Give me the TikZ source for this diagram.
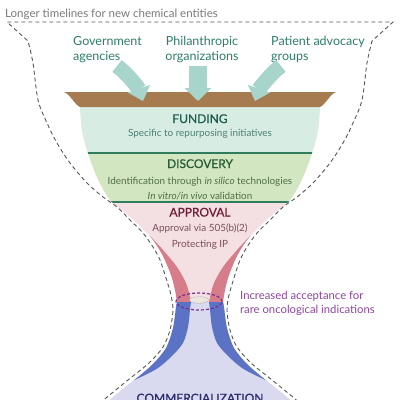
\documentclass[tikz,border=0pt]{standalone}
\usepackage{fontspec}
\setmainfont{Lato}
\newfontfamily\headfont{Lato}[FakeBold=0.8]
\usepackage{tikz}
\usetikzlibrary{arrows.meta,positioning}
\definecolor{titlegray}{HTML}{7A7A7A}
\definecolor{labteal}{HTML}{2D7D69}
\definecolor{arrowteal}{HTML}{A8D5CB}
\definecolor{barbrown}{HTML}{A67B50}
\definecolor{fundfill}{HTML}{D7EDE4}
\definecolor{discfill}{HTML}{D3E6C2}
\definecolor{linegreen}{HTML}{2F7D5C}
\definecolor{fundtxt}{HTML}{1E5E50}
\definecolor{fundsub}{HTML}{4E7F73}
\definecolor{disctxt}{HTML}{2A5D36}
\definecolor{discsub}{HTML}{4F6E4A}
\definecolor{apprtxt}{HTML}{6E1F33}
\definecolor{apprsub}{HTML}{7B4F5A}
\definecolor{apprfill}{HTML}{F4DFE3}
\definecolor{redband}{HTML}{D67D89}
\definecolor{commfill}{HTML}{D9D9EF}
\definecolor{blueband}{HTML}{5C72C4}
\definecolor{commtxt}{HTML}{2B2C6E}
\definecolor{neckpurple}{HTML}{7A2F8F}
\definecolor{accpurple}{HTML}{8E44A0}
\definecolor{outlinegray}{HTML}{555555}
\definecolor{neckfill}{HTML}{ECE6E2}

\newcommand\upperfunnel{plot[smooth] coordinates {(80,105) (82,130) (88,153) (97,177) (110,200) (128,215) (142,228) (153,240) (163,256) (171,275) (175,290) (177,302)}
  -- plot[smooth] coordinates {(223,302) (225,290) (229,275) (237,256) (247,240) (258,228) (272,215) (290,200) (303,177) (312,153) (318,130) (320,105)} -- cycle}
\newcommand\lowerfunnel{plot[smooth] coordinates {(177,302) (176,307) (173,328) (166,348) (153,364) (138,377) (124,388) (112,398) (100,410)}
  -- plot[smooth] coordinates {(300,410) (288,398) (276,388) (262,377) (247,364) (234,348) (227,328) (224,307) (223,302)} -- cycle}

\begin{document}
\begin{tikzpicture}[x=1pt, y=-1pt,
  lbl/.style={font=\fontsize{12.5}{14.5}\selectfont, text=labteal, inner sep=0pt, align=left},
  head/.style={font=\headfont\fontsize{12}{14}\selectfont, inner sep=0pt, anchor=base},
  sub/.style={font=\fontsize{9.9}{11}\selectfont, inner sep=0pt, anchor=base},
  feed/.style={draw=arrowteal, line width=15pt, -{Triangle[width=23pt,length=13pt]}},
  outline/.style={draw=outlinegray, line width=0.9pt, dash pattern=on 4pt off 3pt}]
\useasboundingbox (0,0) rectangle (400,400);
\clip (0,0) rectangle (400,400);

% funnel, upper part
\fill[apprfill] \upperfunnel;
\begin{scope}
\clip \upperfunnel;
\fill[fundfill] (0,100) rectangle (400,153);
\fill[discfill] (0,153) rectangle (400,202);
\fill[redband] (130,236) -- plot[smooth] coordinates {(150,236) (163,250) (177,267) (186,283) (190,297) (191,303)} -- (150,303) -- cycle;
\fill[redband] (270,236) -- plot[smooth] coordinates {(250,236) (237,250) (223,267) (214,283) (210,297) (209,303)} -- (250,303) -- cycle;
\draw[linegreen, line width=1.5pt] (0,153) -- (400,153);
\draw[linegreen, line width=1.5pt] (0,202) -- (400,202);
\end{scope}

% funnel, lower part
\fill[commfill] \lowerfunnel;
\begin{scope}
\clip \lowerfunnel;
\fill[blueband] (100,302) -- plot[smooth] coordinates {(191,302) (190,310) (188,327) (183,343) (172,356) (158,368) (143,376) (128,383)} -- (100,383) -- cycle;
\fill[blueband] (300,302) -- plot[smooth] coordinates {(209,302) (210,310) (212,327) (217,343) (228,356) (242,368) (257,376) (272,383)} -- (300,383) -- cycle;
\end{scope}

% rim
\fill[barbrown] (64,92) -- (336,92) .. controls (330,94) and (326,104) .. (320,107) -- (80,107) .. controls (74,104) and (70,94) .. (64,92) -- cycle;

% dashed envelope
\draw[outline] plot[smooth] coordinates {(100,404) (106,398) (128,380) (149,363) (163,347) (170,330) (173,310) (171,295) (166,278) (160,260) (153,247) (143,233) (130,220) (117,207) (103,197) (87,183) (70,163) (57,143) (47,123) (38,100) (33,63) (28,41)}
  -- (7,22) -- (393,22) -- (372,41)
  -- plot[smooth] coordinates {(372,41) (367,63) (362,100) (353,123) (343,143) (330,163) (313,183) (297,197) (283,207) (270,220) (257,233) (247,247) (240,260) (234,278) (229,295) (227,310) (230,330) (237,347) (251,363) (272,380) (294,398) (300,404)};

% neck
\draw[gray, densely dotted, fill=neckfill, line width=0.5pt] (199,300) ellipse [x radius=9.5pt, y radius=3.3pt];
\draw[neckpurple, line width=1.2pt, dash pattern=on 3pt off 2pt] (199,301.5) ellipse [x radius=23pt, y radius=8.5pt];

% texts
\node[anchor=base west, inner sep=0pt, font=\fontsize{11.5}{13}\selectfont, text=titlegray] (timeline) at (5,17.3) {Longer timelines for new chemical entities};
\node[lbl, anchor=north west] (gov) at (73,36.5) {Government\\agencies};
\node[lbl, anchor=north, align=center] (phil) at (202,36.5) {Philanthropic\\organizations};
\node[lbl, anchor=north west] (pat) at (271,36.5) {Patient advocacy\\groups};

\coordinate (govfrom) at (117,66);
\coordinate (govto) at (143,101);
\coordinate (philfrom) at (198,66);
\coordinate (philto) at (198,101);
\coordinate (patfrom) at (281,66);
\coordinate (patto) at (255,101);
\draw[feed] (govfrom) .. controls +(10,7) and +(-4,-12) .. (govto);
\draw[feed, line width=18pt, -{Triangle[width=26pt,length=13pt]}] (philfrom) -- (philto);
\draw[feed] (patfrom) .. controls +(-10,7) and +(4,-12) .. (patto);

\node[head, text=fundtxt] (fund) at (200,123) {FUNDING};
\node[sub, text=fundsub] (fundnote) at (200,136.5) {Specific to repurposing initiatives};
\node[head, text=disctxt] (disc) at (200,168) {DISCOVERY};
\node[sub, text=discsub] (discnote) at (200,184) {Identification through \textit{in silico} technologies};
\node[sub, text=discsub] (discval) at (200,199) {\textit{In vitro/in vivo} validation};
\node[head, text=apprtxt] (appr) at (200,216.5) {APPROVAL};
\node[sub, text=apprsub] (apprnote) at (200,231.5) {Approval via 505(b)(2)};
\node[sub, text=apprsub] (apprip) at (200,247) {Protecting IP};

\node[anchor=north west, inner sep=0pt, align=left, font=\fontsize{11.3}{14}\selectfont, text=accpurple] (accept) at (240,291) {Increased acceptance for\\rare oncological indications};
\node[head, anchor=north, text=commtxt] (comm) at (200,393.5) {COMMERCIALIZATION};
\end{tikzpicture}
\end{document}
